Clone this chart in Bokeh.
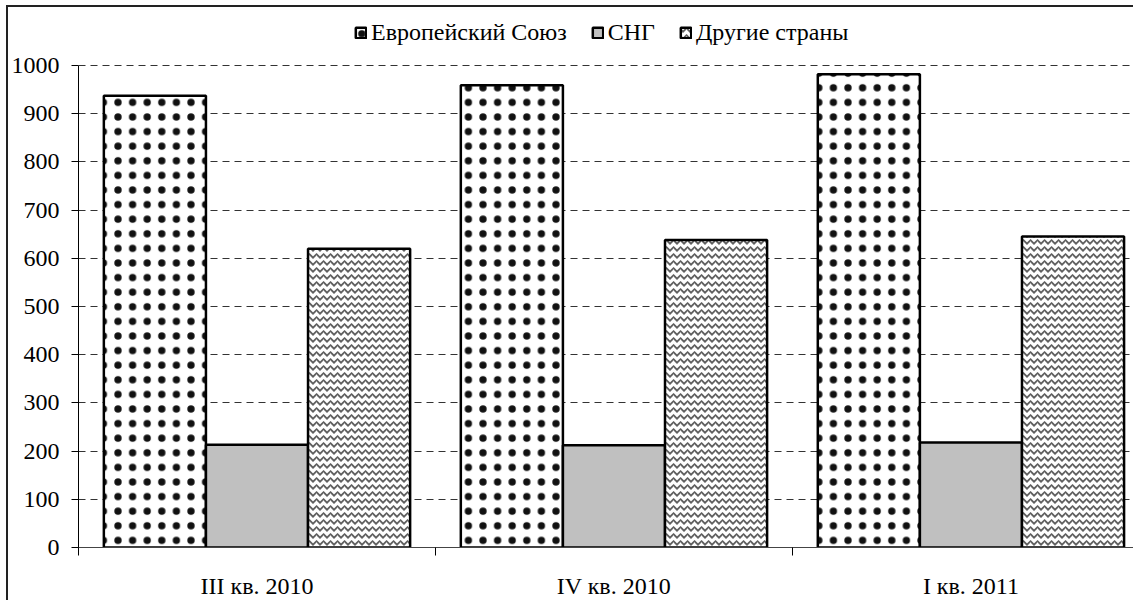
from bokeh.plotting import figure
from bokeh.models import Range1d, FixedTicker, Legend, LegendItem, ColumnDataSource
from bokeh.embed import file_html
from bokeh.resources import INLINE

categories = ["III кв. 2010", "IV кв. 2010", "I кв. 2011"]
series_names = ["Европейский Союз", "СНГ", "Другие страны"]
eu = [937, 959, 982]
cis = [213, 212, 218]
other = [620, 638, 645]
y_ticks = [0, 100, 200, 300, 400, 500, 600, 700, 800, 900, 1000]

FONT = "Liberation Serif"
FS = "24px"

p = figure(width=1127, height=595, output_backend="svg", toolbar_location=None,
           x_range=Range1d(0, 2.961), y_range=Range1d(0, 1114),
           min_border_left=68, min_border_right=0, min_border_top=3, min_border_bottom=55)
p.styles = {"border-left": "2px solid #222", "border-top": "2px solid #222",
            "box-sizing": "border-box", "margin-left": "6px", "margin-top": "5px"}
p.outline_line_color = None
p.background_fill_color = "white"

idx = list(range(len(categories)))
bw = 0.286
src = ColumnDataSource(dict(
    x_eu=[i + 0.5 - bw for i in idx], x_cis=[i + 0.5 for i in idx], x_oth=[i + 0.5 + bw for i in idx],
    eu=eu, cis=cis, other=other))

r1 = p.vbar(x="x_eu", top="eu", width=bw, source=src, fill_color="white",
            hatch_pattern="dot", hatch_color="#111", hatch_scale=14.6, hatch_weight=11,
            line_color="black", line_width=2.5)
r2 = p.vbar(x="x_cis", top="cis", width=bw, source=src, fill_color="#c0c0c0",
            line_color="black", line_width=2.5)
r3 = p.vbar(x="x_oth", top="other", width=bw, source=src, fill_color="white",
            hatch_pattern="horizontal_wave", hatch_color="#606060", hatch_scale=7, hatch_weight=1.8,
            line_color="black", line_width=2.5)

# axes
p.yaxis.ticker = FixedTicker(ticks=y_ticks)
p.yaxis.bounds = (0, 1000)
p.yaxis.major_tick_out = 7
p.yaxis.major_tick_in = 0
p.yaxis.minor_tick_line_color = None
p.yaxis.axis_line_color = "black"
p.yaxis.major_label_text_font = FONT
p.yaxis.major_label_text_font_size = FS
p.yaxis.major_label_text_color = "black"
p.yaxis.major_label_standoff = 12

p.xaxis.ticker = FixedTicker(ticks=[i + 0.5 for i in idx], minor_ticks=list(range(len(categories) + 1)))
p.xaxis.major_label_overrides = {i + 0.5: c for i, c in enumerate(categories)}
p.xaxis.major_tick_line_color = None
p.xaxis.major_tick_out = 0
p.xaxis.major_tick_in = 0
p.xaxis.minor_tick_out = 8
p.xaxis.minor_tick_in = 0
p.xaxis.minor_tick_line_color = "black"
p.xaxis.axis_line_color = "#444"
p.xaxis.major_label_text_font = FONT
p.xaxis.major_label_text_font_size = FS
p.xaxis.major_label_text_color = "black"
p.xaxis.major_label_standoff = 17

p.xgrid.grid_line_color = None
p.ygrid.grid_line_color = "#333"
p.ygrid.grid_line_dash = "7 5"
p.ygrid.grid_line_width = 1
p.ygrid.bounds = (0, 1000)

legend = Legend(items=[LegendItem(label=series_names[0], renderers=[r1]),
                       LegendItem(label=series_names[1], renderers=[r2]),
                       LegendItem(label=series_names[2], renderers=[r3])],
                orientation="horizontal", location=(276, 501),
                label_text_font=FONT, label_text_font_size=FS, label_text_color="black",
                glyph_width=13, glyph_height=13, label_standoff=4, spacing=24,
                padding=0, margin=0, border_line_alpha=0, background_fill_alpha=0)
p.add_layout(legend)

open("out.html", "w").write(file_html(p, INLINE))
